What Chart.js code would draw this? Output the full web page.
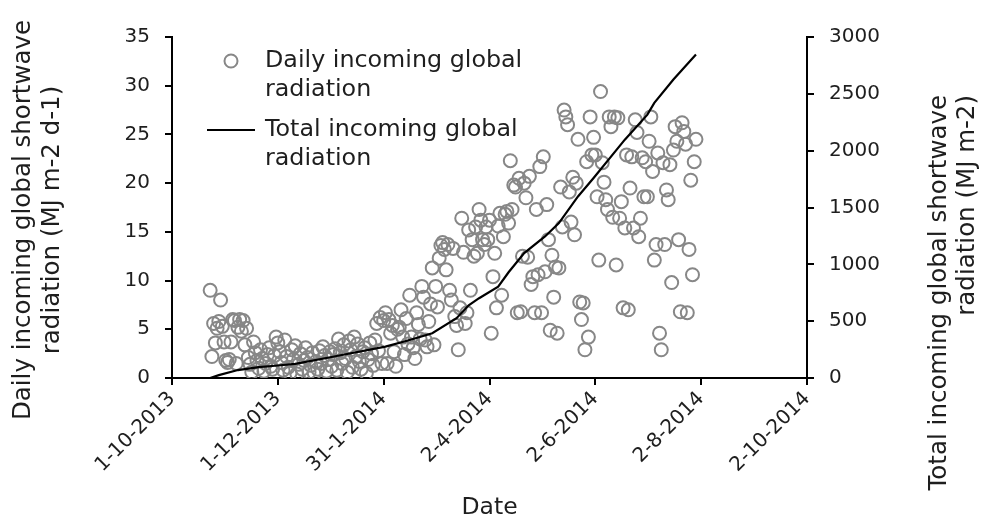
<!DOCTYPE html>
<html>
<head>
<meta charset="utf-8">
<script src="https://cdn.jsdelivr.net/npm/chart.js@4.4.1/dist/chart.umd.min.js"></script>
<style>
  body { margin: 0; background: #fff; }
</style>
</head>
<body>
<canvas id="chart" width="981" height="520"></canvas>
<script>
// daily incoming global radiation (MJ m-2 d-1), per month
const octDaily = [9.0, 2.2, 5.6, 3.6, 5.1, 5.8, 8.0, 5.3, 3.7] // from 23-10-2013
const novDaily = [1.8, 1.6, 1.9, 3.7, 6.0, 5.9, 1.5, 5.2, 6.0, 4.8, 5.9, 3.4, 5.1, 2.1, 1.4, 0.6, 3.7, 2.6, 1.8, 1.0, 2.9, 2.0, 0.7, 1.5, 2.4, 3.1, 1.2, 0.9, 2.3, 4.2]
const decDaily = [3.6, 2.7, 1.6, 0.8, 3.9, 2.2, 1.1, 0.5, 2.9, 1.9, 3.3, 0.4, 1.4, 2.5, 0.9, 1.8, 3.1, 2.1, 0.6, 1.3, 2.6, 0.5, 1.7, 0.9, 2.8, 1.5, 3.2, 2.3, 0.7, 1.9, 2.7]
const janDaily = [1.2, 2.4, 3.0, 0.8, 4.0, 2.6, 1.5, 3.4, 2.0, 0.6, 3.8, 2.9, 1.1, 4.2, 2.2, 3.5, 1.7, 0.9, 2.7, 3.1, 0.5, 1.9, 3.6, 2.5, 1.3, 3.9, 5.6, 2.8, 6.2, 1.5, 5.9]
const febDaily = [6.7, 1.5, 6.0, 4.6, 5.4, 2.7, 1.2, 5.0, 5.2, 7.0, 4.2, 2.4, 6.1, 3.5, 8.5, 4.2, 3.1, 2.0, 6.7, 5.5, 4.0, 9.4, 8.3, 3.9, 3.2, 5.8, 7.6, 11.3]
const marDaily = [3.4, 9.4, 7.3, 12.3, 13.6, 13.9, 13.2, 11.1, 13.7, 9.0, 8.0, 13.3, 6.3, 5.4, 2.9, 7.2, 16.4, 12.9, 5.6, 6.7, 15.2, 9.0, 14.2, 12.5, 15.5, 12.8, 17.3, 16.2, 14.2, 13.7, 15.5]
const aprDaily = [14.2, 16.2, 4.6, 10.4, 12.8, 7.2, 15.6, 16.9, 8.5, 14.5, 16.8, 17.1, 15.9, 22.3, 17.3, 19.8, 19.6, 6.7, 20.5, 6.8, 12.5, 20.0, 18.5, 12.4, 20.7, 9.6, 10.4, 6.7, 17.3, 10.6]
const mayDaily = [21.7, 6.7, 22.7, 10.9, 17.8, 14.2, 4.9, 12.6, 8.3, 11.4, 4.6, 11.3, 19.6, 15.5, 27.5, 26.8, 26.0, 19.1, 16.0, 20.6, 14.7, 20.0, 24.5, 7.8, 6.0, 7.7, 2.9, 22.2, 4.2, 26.8, 22.9]
const junDaily = [24.7, 22.9, 18.6, 12.1, 29.4, 22.1, 20.1, 18.3, 17.3, 26.8, 25.8, 16.5, 26.8, 11.6, 26.7, 16.4, 18.1, 7.2, 15.4, 22.9, 7.0, 19.5, 22.7, 15.4, 26.5, 25.2, 14.5, 16.4, 22.6, 18.6]
const julDaily = [22.2, 18.6, 24.3, 26.8, 21.2, 12.1, 13.7, 23.1, 4.6, 2.9, 22.1, 13.7, 19.3, 18.3, 21.9, 9.8, 23.4, 25.8, 24.3, 14.2, 6.8, 26.2, 25.3, 24.0, 6.7, 13.2, 20.3, 10.6, 22.2, 24.5]

// total incoming global radiation (MJ m-2)
const totalDates = ["2013-10-23", "2013-10-28", "2013-11-08", "2013-11-20", "2013-12-01", "2013-12-11", "2014-01-01",
  "2014-02-01", "2014-02-14", "2014-02-28", "2014-03-14", "2014-03-21", "2014-03-27", "2014-04-07", "2014-04-13",
  "2014-04-22", "2014-05-04", "2014-05-12", "2014-05-23", "2014-06-01", "2014-06-19", "2014-07-02", "2014-07-06",
  "2014-07-17", "2014-07-30"]
const totalValues = [0, 25, 70, 95, 110, 125, 185, 276, 330, 394, 526, 640, 702, 804, 930, 1099, 1245, 1363, 1597,
  1760, 2097, 2317, 2420, 2626, 2846]

// x axis ticks (days since 1-10-2013)
const xTickDays = [0, 61, 122, 183, 244, 305, 366]
const xTickLabels = ["1-10-2013", "1-12-2013", "31-1-2014", "2-4-2014", "2-6-2014", "2-8-2014", "2-10-2014"]

const origin = Date.UTC(2013, 9, 1)
function dayIndex(y, m, d) {
  return (Date.UTC(y, m - 1, d) - origin) / 86400000
}

const months = [
  [2013, 10, 23, octDaily], [2013, 11, 1, novDaily], [2013, 12, 1, decDaily],
  [2014, 1, 1, janDaily], [2014, 2, 1, febDaily], [2014, 3, 1, marDaily],
  [2014, 4, 1, aprDaily], [2014, 5, 1, mayDaily], [2014, 6, 1, junDaily], [2014, 7, 1, julDaily]
]
const dailyPoints = []
months.forEach(([y, m, d0, vals]) => {
  vals.forEach((v, i) => dailyPoints.push({x: dayIndex(y, m, d0 + i), y: v}))
})
const totalPoints = totalDates.map((s, i) => {
  const [y, m, d] = s.split("-").map(Number)
  return {x: dayIndex(y, m, d), y: totalValues[i]}
})

const textColor = "#1e1e1e"
const fontFamily = "'DejaVu Sans', Verdana, sans-serif"
const grey = "#878787"

const textPlugin = {
  id: "texts",
  afterDraw(chart) {
    const ctx = chart.ctx
    ctx.save()
    ctx.fillStyle = textColor
    ctx.font = "24.5px " + fontFamily
    ctx.textBaseline = "middle"

    // left axis title, centred
    ctx.textAlign = "center"
    ctx.save()
    ctx.translate(24, 220)
    ctx.rotate(-Math.PI / 2)
    ctx.fillText("Daily incoming global shortwave", 0, 0)
    ctx.fillText("radiation (MJ m-2 d-1)", 0, 29)
    ctx.restore()
    // right axis title, lines end at the top
    ctx.textAlign = "right"
    ctx.save()
    ctx.translate(940, 95)
    ctx.rotate(-Math.PI / 2)
    ctx.fillText("Total incoming global shortwave", 0, 0)
    ctx.fillText("radiation (MJ m-2)", 0, 28)
    ctx.restore()

    // legend
    ctx.font = "23.8px " + fontFamily
    ctx.textAlign = "left"
    ctx.strokeStyle = grey
    ctx.lineWidth = 2
    ctx.beginPath()
    ctx.arc(231, 61, 6.5, 0, Math.PI * 2)
    ctx.stroke()
    ctx.fillText("Daily incoming global", 265, 61)
    ctx.fillText("radiation", 265, 90)
    ctx.strokeStyle = "#000"
    ctx.lineWidth = 2.2
    ctx.beginPath()
    ctx.moveTo(207, 130)
    ctx.lineTo(255, 130)
    ctx.stroke()
    ctx.fillText("Total incoming global", 265, 130)
    ctx.fillText("radiation", 265, 159)
    ctx.restore()
  }
}

const axisGrid = {display: true, drawOnChartArea: false, drawTicks: true, tickLength: 7, color: "#000", lineWidth: 2}
const axisBorder = {display: true, color: "#000", width: 2}
const tickFont = {family: fontFamily, size: 20}

const chart = new Chart("chart", {
  data: {
    datasets: [{
        type: "line",
        label: "Total incoming global radiation",
        data: totalPoints,
        yAxisID: "y1",
        borderColor: "#000",
        borderWidth: 2.2,
        pointRadius: 0,
        tension: 0,
        order: 0,
      }, {
        type: "scatter",
        label: "Daily incoming global radiation",
        data: dailyPoints,
        yAxisID: "y",
        borderColor: grey,
        backgroundColor: "rgba(0,0,0,0)",
        borderWidth: 2,
        pointRadius: 6.5,
        order: 1,
      }
    ]
  },
  options: {
    responsive: false,
    animation: false,
    layout: {padding: {top: 37, left: 0, right: 0, bottom: 0}},
    plugins: {
      legend: {display: false},
      tooltip: {enabled: false},
    },
    scales: {
      x: {
        type: "linear",
        min: 0,
        max: 366,
        afterBuildTicks: s => { s.ticks = xTickDays.map(v => ({value: v})) },
        afterFit: s => { s.height = 142 },
        ticks: {
          callback: v => xTickLabels[xTickDays.indexOf(v)],
          minRotation: 45,
          maxRotation: 45,
          autoSkip: false,
          padding: 2,
          color: textColor,
          font: tickFont,
        },
        grid: axisGrid,
        border: axisBorder,
        title: {display: true, text: "Date", color: textColor, font: {family: fontFamily, size: 23.5, lineHeight: 1}, padding: 0},
      },
      y: {
        position: "left",
        min: 0,
        max: 35,
        afterFit: s => { s.width = 172 },
        ticks: {stepSize: 5, padding: 15, color: textColor, font: tickFont, callback: v => String(v)},
        grid: axisGrid,
        border: axisBorder,
      },
      y1: {
        position: "right",
        min: 0,
        max: 3000,
        afterFit: s => { s.width = 174 },
        ticks: {stepSize: 500, padding: 15, color: textColor, font: tickFont, callback: v => String(v)},
        grid: axisGrid,
        border: axisBorder,
      },
    },
  },
  plugins: [textPlugin],
})
</script>
</body>
</html>
